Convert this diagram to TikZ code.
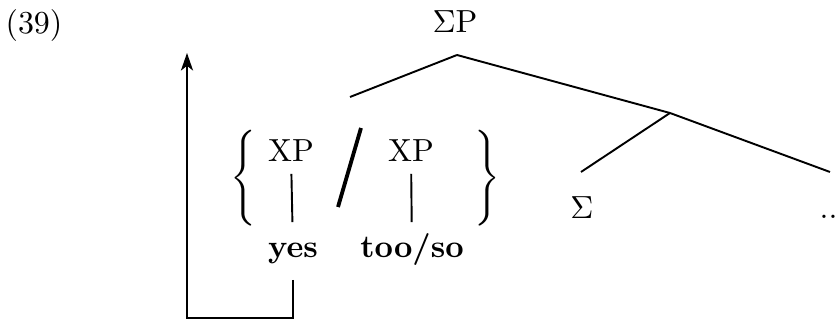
\documentclass[tikz,border=0pt]{standalone}
\usetikzlibrary{arrows.meta}

\begin{document}
\begin{tikzpicture}[x=0.011cm, y=-0.011cm,
    word/.style={anchor=base, inner sep=0pt, text height=7pt, text depth=2pt},
    branch/.style={-, semithick}]
    \useasboundingbox (0,0) rectangle (836,320);

    \node[word] (ex) at (34,34) {(39)};
    \node[word] (SP) at (455,33) {$\Sigma$P};
    \node[word] (Sig) at (582,219) {$\Sigma$};
    \node[word, anchor=base west] (dots) at (819,219) {...};

    \node[word] (XPa) at (291,162) {XP};
    \node[word] (XPb) at (411,162) {XP};
    \node[word] (yes) at (293,258) {\textbf{yes}};
    \node[word] (tooso) at (412,258) {\textbf{too/so}};
    \node (lbr) at (243,178) {$\Bigg\{$};
    \node (rbr) at (487,178) {$\Bigg\}$};

    \coordinate (SPtop) at (457,55);
    \coordinate (Sbar) at (670,113);
    \coordinate (XPend) at (350,97);
    \coordinate (Sigend) at (581,172);
    \coordinate (dotsend) at (830,172);
    \coordinate (slashtop) at (361,128);
    \coordinate (slashbot) at (338,207);
    \coordinate (mvfoot) at (293,280);
    \coordinate (mvtop) at (187,53);

    \path [branch](SPtop) edge  (XPend);
    \path [branch](SPtop) edge  (Sbar);
    \path [branch](Sbar) edge  (Sigend);
    \path [branch](Sbar) edge  (dotsend);
    \path [branch, shorten <=1.5pt, shorten >=4pt](XPa) edge  (yes);
    \path [branch, shorten <=1.5pt, shorten >=4pt](XPb) edge  (tooso);
    \path [-, line width=1.2pt](slashtop) edge  (slashbot);

    \draw [semithick, -{Stealth[length=5.5pt, width=3.8pt, inset=1.5pt]}]
        (mvfoot) -- ++(0,38) -| (mvtop);

\end{tikzpicture}
\end{document}
